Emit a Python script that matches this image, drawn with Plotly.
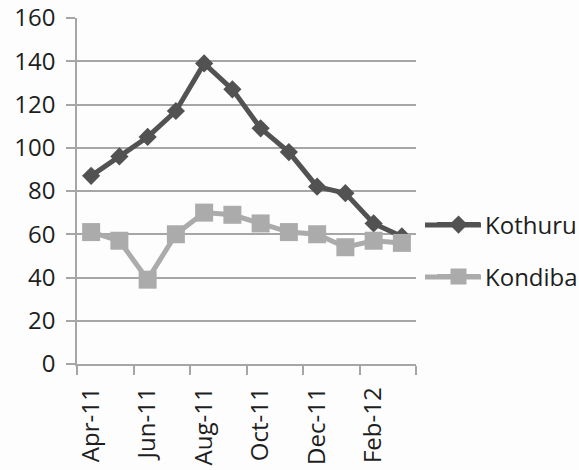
import plotly.graph_objects as go

# Monthly readings, April 2011 to March 2012
months = ["Apr-11", "May-11", "Jun-11", "Jul-11", "Aug-11", "Sep-11",
          "Oct-11", "Nov-11", "Dec-11", "Jan-12", "Feb-12", "Mar-12"]
kothuru = [87, 96, 105, 117, 139, 127, 109, 98, 82, 79, 65, 59]
kondiba = [61, 57, 39, 60, 70, 69, 65, 61, 60, 54, 57, 56]

y_ticks = [0, 20, 40, 60, 80, 100, 120, 140, 160]

idx = list(range(len(months)))
label_idx = idx[::2]
label_txt = months[::2]

FONT = "Open Sans"
GRID = "#a6a6a6"
DARK = "#525252"
LIGHT = "#ababab"

# plot-area geometry in pixels (used to place the legends beside it)
W, H = 579, 470
L, R, T, B = 77, 163, 18, 106
PW, PH = W - L - R, H - T - B


def px_x(x):
    return (x - L) / PW


def px_y(y):
    return 1 - (y - T) / PH


fig = go.Figure()
fig.add_trace(go.Scatter(
    x=idx, y=kothuru, name="Kothuru", mode="lines+markers",
    line=dict(color=DARK, width=5),
    marker=dict(symbol="diamond", size=14, color=DARK),
    legend="legend", showlegend=True,
))
fig.add_trace(go.Scatter(
    x=idx, y=kondiba, name="Kondiba", mode="lines+markers",
    line=dict(color=LIGHT, width=5),
    marker=dict(symbol="square", size=18, color=LIGHT),
    legend="legend2", showlegend=True,
))

leg_common = dict(xanchor="left", yanchor="middle", itemwidth=43,
                  bgcolor="rgba(0,0,0,0)", font=dict(family=FONT, size=24, color="#1e1e1e"))
fig.update_layout(
    width=W, height=H,
    margin=dict(l=L, r=R, t=T, b=B, autoexpand=False),
    paper_bgcolor="#fdfdfd", plot_bgcolor="#fdfdfd",
    font=dict(family=FONT, size=24, color="#1e1e1e"),
    legend=dict(x=px_x(432), y=px_y(225), **leg_common),
    legend2=dict(x=px_x(432), y=px_y(277), **leg_common),
)

# longer legend key lines
for color, yy in ((DARK, 225), (LIGHT, 277)):
    fig.add_shape(type="line", xref="paper", yref="paper",
                  x0=px_x(425), x1=px_x(481), y0=px_y(yy), y1=px_y(yy),
                  line=dict(color=color, width=5), layer="above")

fig.update_xaxes(
    range=[-0.5, len(months) - 0.5],
    tickmode="array", tickvals=label_idx, ticktext=label_txt,
    tickangle=-90, ticks="", showgrid=False, zeroline=False,
    showline=True, linecolor=GRID, linewidth=1.5,
    minor=dict(tick0=-0.5, dtick=2, ticks="outside", ticklen=9,
               tickcolor=GRID, tickwidth=1.5, showgrid=False),
    ticklabelstandoff=12, automargin=False,
)
fig.update_yaxes(
    range=[0, 160], tickmode="array", tickvals=y_ticks,
    showgrid=True, gridcolor=GRID, gridwidth=1.5,
    ticks="outside", ticklen=9, tickcolor=GRID, tickwidth=1.5,
    showline=True, linecolor=GRID, linewidth=1.5, zeroline=False,
    ticklabelstandoff=6, automargin=False,
)

fig.write_html("out.html")
